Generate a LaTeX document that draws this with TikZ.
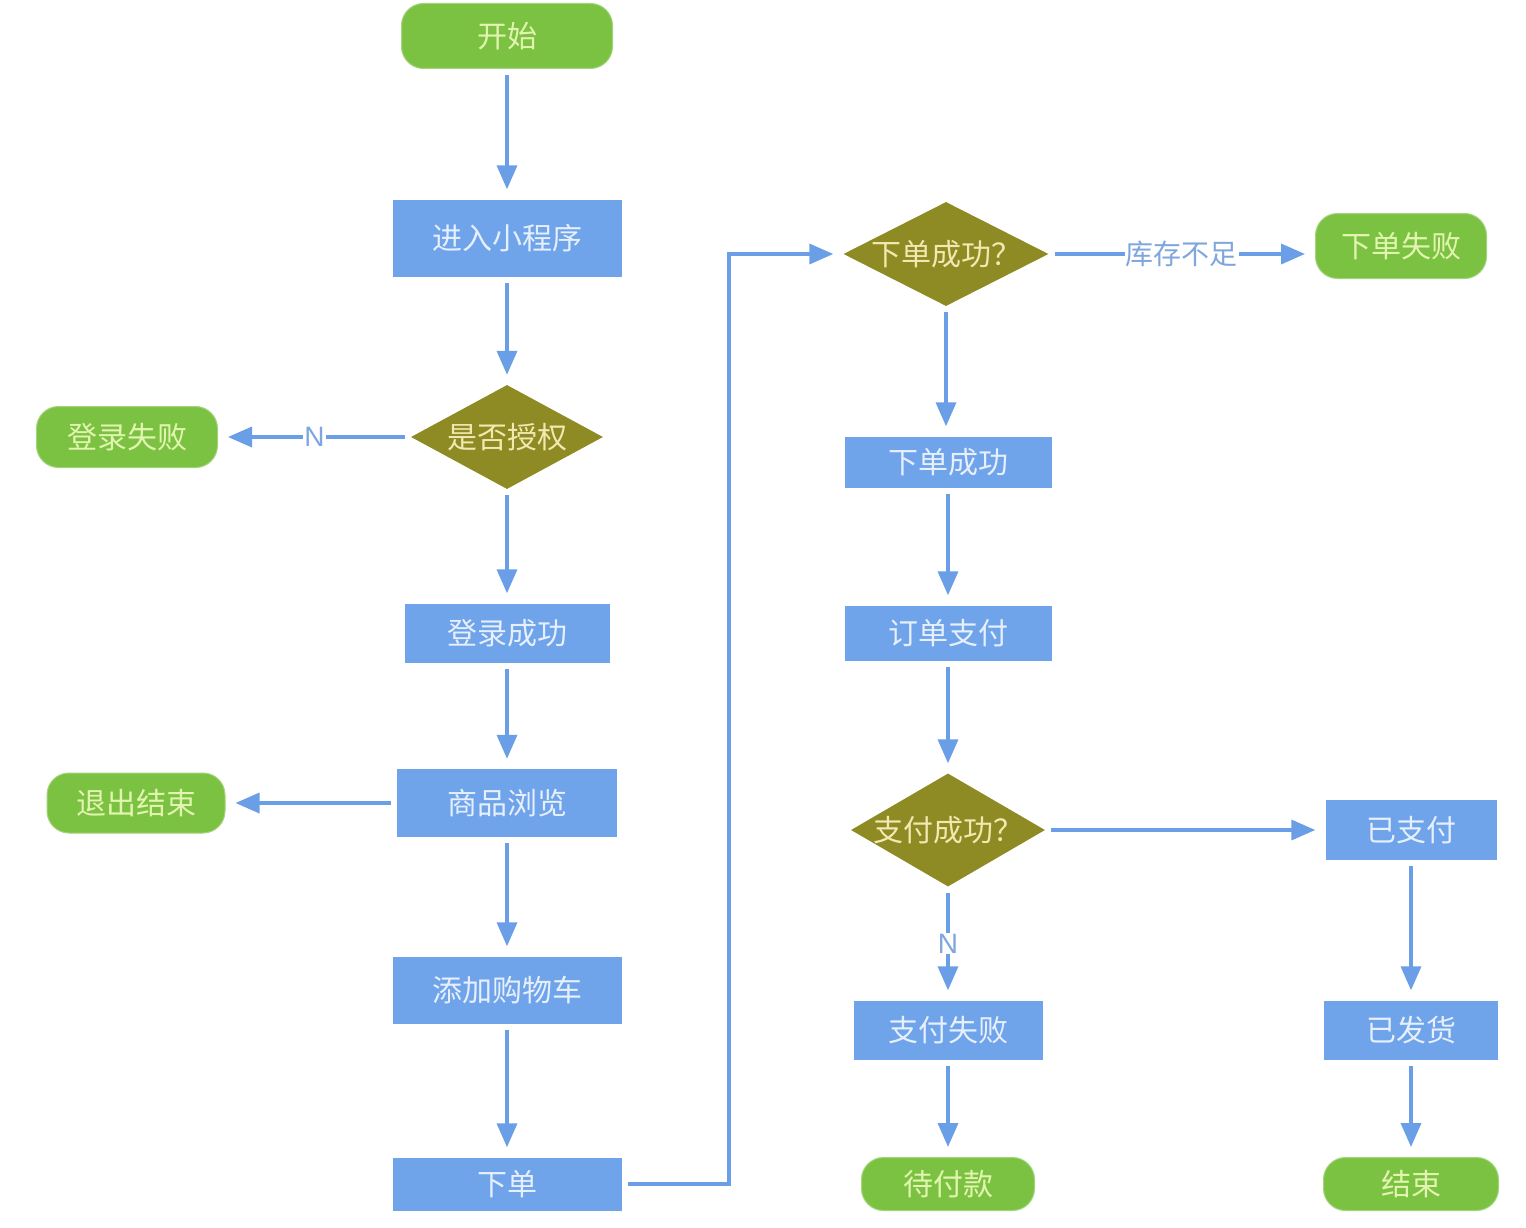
\documentclass[tikz,border=0pt]{standalone}
\usepackage{fontspec}
\setmainfont{Noto Sans CJK SC}
\setsansfont{Liberation Sans}
\usetikzlibrary{shapes.geometric,arrows.meta}
\definecolor{termgreen}{HTML}{7CC242}
\definecolor{termtext}{HTML}{E2F5B0}
\definecolor{boxblue}{HTML}{6FA3EA}
\definecolor{boxtext}{HTML}{E6EFFC}
\definecolor{diaolive}{HTML}{8E8A24}
\definecolor{diatext}{HTML}{F0E9B0}
\definecolor{linkblue}{HTML}{6A9FE8}
\definecolor{labelblue}{HTML}{7FA6DE}
\tikzset{
  base/.style={font=\fontsize{30}{34}\selectfont, inner sep=0pt},
  term/.style={base, fill=termgreen, text=termtext, rounded corners=22pt, draw=termgreen!70!white, line width=1pt},
  procbox/.style={base, fill=boxblue, text=boxtext},
  dia/.style={diamond, fill=diaolive, inner sep=0pt, minimum width=#1, minimum height=104pt},
  diatxt/.style={base, text=diatext},
  conn/.style={draw=linkblue, line width=3.5pt, -{Triangle[length=24pt,width=20pt]}, shorten >=10pt, shorten <=6pt},
  lab/.style={fill=white, text=labelblue, inner sep=1pt, font=\sffamily\fontsize{28}{30}\selectfont},
  cjklab/.style={fill=white, text=labelblue, inner sep=1pt, font=\fontsize{28}{30}\selectfont},
}
\begin{document}
\begin{tikzpicture}[x=1pt,y=-1pt]
\useasboundingbox[fill=white] (0,0) rectangle (1526,1228);
% left column
\node[term, minimum width=211pt, minimum height=65pt] (start) at (507,36) {开始};
\node[procbox, minimum width=229pt, minimum height=77pt] (enter) at (507,238) {进入小程序};
\node[dia=192pt, label={[diatxt]center:是否授权}] (auth) at (507,437) {};
\node[procbox, minimum width=205pt, minimum height=59pt] (loginok) at (507,633) {登录成功};
\node[procbox, minimum width=220pt, minimum height=68pt] (browse) at (507,803) {商品浏览};
\node[procbox, minimum width=229pt, minimum height=67pt] (cart) at (507,990) {添加购物车};
\node[procbox, minimum width=229pt, minimum height=53pt] (order) at (507,1184) {下单};
\node[term, minimum width=181pt, minimum height=61pt] (loginfail) at (127,437) {登录失败};
\node[term, minimum width=178pt, minimum height=60pt] (quit) at (136,803) {退出结束};
% middle column
\node[dia=205pt, label={[diatxt]center:下单成功？}] (ordq) at (946,254) {};
\node[term, minimum width=171pt, minimum height=65pt] (ordfail) at (1401,246) {下单失败};
\node[procbox, minimum width=207pt, minimum height=51pt] (ordok) at (948,462) {下单成功};
\node[procbox, minimum width=207pt, minimum height=55pt] (pay) at (948,633) {订单支付};
\node[dia=194pt, label={[diatxt]center:支付成功？}, minimum height=113pt] (payq) at (948,830) {};
\node[procbox, minimum width=189pt, minimum height=59pt] (payfail) at (948,1030) {支付失败};
\node[term, minimum width=173pt, minimum height=53pt] (wait) at (948,1184) {待付款};
% right column
\node[procbox, minimum width=171pt, minimum height=60pt] (paid) at (1411,830) {已支付};
\node[procbox, minimum width=174pt, minimum height=59pt] (shipped) at (1411,1030) {已发货};
\node[term, minimum width=175pt, minimum height=53pt] (finish) at (1411,1184) {结束};
\coordinate (bend) at (729,1184);
% connectors
\draw[conn] (start) -- (enter);
\draw[conn] (enter) -- (auth);
\draw[conn] (auth) -- (loginok);
\draw[conn] (auth) -- node[lab] {N} (loginfail);
\draw[conn] (loginok) -- (browse);
\draw[conn] (browse) -- (cart);
\draw[conn] (browse) -- (quit);
\draw[conn] (cart) -- (order);
\draw[conn] (order.east) -- (bend) |- (ordq.west);
\draw[conn] (ordq.east) -- node[cjklab] {库存不足} (ordq.east -| ordfail.west);
\draw[conn] (ordq) -- (ordq |- ordok.north);
\draw[conn] (ordok) -- (pay);
\draw[conn] (pay) -- (payq);
\draw[conn] (payq) -- (paid);
\draw[conn] (payq) -- node[lab, pos=0.5] {N} (payfail);
\draw[conn] (payfail) -- (wait);
\draw[conn] (paid) -- (shipped);
\draw[conn] (shipped) -- (finish);
\end{tikzpicture}
\end{document}
